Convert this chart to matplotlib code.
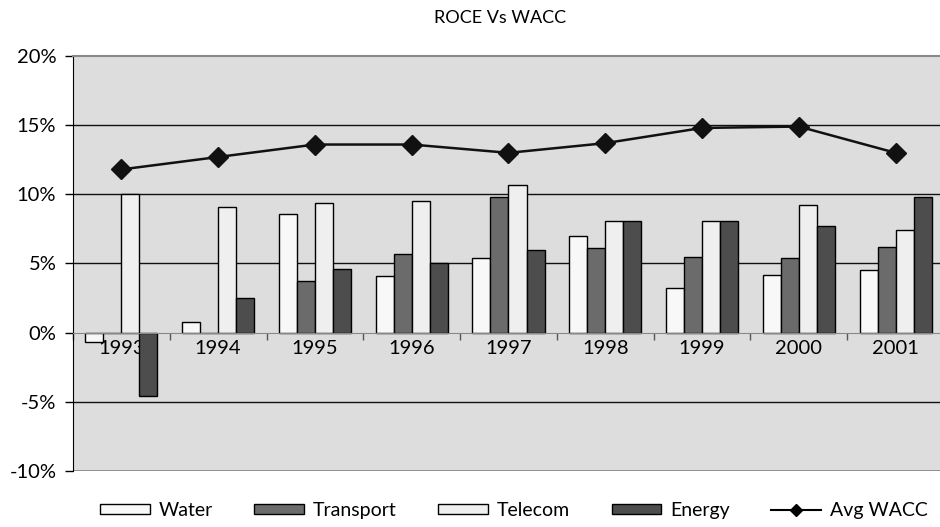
import numpy as np
import matplotlib
matplotlib.use('Agg')
import matplotlib.pyplot as plt
from matplotlib.lines import Line2D
from matplotlib.patches import Patch

plt.rcParams['font.family'] = ['Lato', 'DejaVu Sans']

# Data (percent)
years = ['1993', '1994', '1995', '1996', '1997', '1998', '1999', '2000', '2001']
water = [-0.7, 0.8, 8.6, 4.1, 5.4, 7.0, 3.2, 4.2, 4.5]
transport = [0.0, 0.0, 3.7, 5.7, 9.8, 6.1, 5.5, 5.4, 6.2]
telecom = [10.0, 9.1, 9.4, 9.5, 10.7, 8.1, 8.1, 9.2, 7.4]
energy = [-4.6, 2.5, 4.6, 5.0, 6.0, 8.1, 8.1, 7.7, 9.8]
avg_wacc = [11.8, 12.7, 13.6, 13.6, 13.0, 13.7, 14.8, 14.9, 13.0]
yticks = [-10, -5, 0, 5, 10, 15, 20]
ytick_labels = ['-10%', '-5%', '0%', '5%', '10%', '15%', '20%']

series = [('Water', water, '#f8f8f8'),
          ('Transport', transport, '#6b6b6b'),
          ('Telecom', telecom, '#efefef'),
          ('Energy', energy, '#4d4d4d')]

fig = plt.figure(figsize=(9.4, 5.27), dpi=100)
ax = fig.add_axes([73 / 940, 56 / 527, 871 / 940, 415 / 527])
ax.set_facecolor('#dddddd')
ax.set_axisbelow(True)

x = np.arange(len(years))
w = 0.186
for i, (name, vals, col) in enumerate(series):
    ax.bar(x + (i - 1.5) * w, vals, w, color=col, edgecolor='black',
           linewidth=1, zorder=1)

ax.plot(x, avg_wacc, color='#111111', lw=1.8, marker='D', markersize=10,
        zorder=4)

for g in [5, 10, 15, -5]:
    ax.axhline(g, color='#111111', lw=1, zorder=0.6)
ax.axhline(-10, color='#888888', lw=2, zorder=0.6)

ax.spines['bottom'].set_position(('data', 0))
ax.spines['bottom'].set_color('#888888')
ax.spines['top'].set_color('#888888')
ax.spines['top'].set_linewidth(1.5)
ax.spines['right'].set_visible(False)
ax.spines['left'].set_color('black')

ax.set_ylim(-10, 20)
ax.set_xlim(-0.5, len(years) - 0.5)
ax.set_yticks(yticks)
ax.set_yticklabels(ytick_labels)
ax.tick_params(axis='y', direction='out', length=6, width=1, pad=6,
               labelsize=14.5)

ax.set_xticks(x)
ax.set_xticklabels(years)
ax.set_xticks(np.arange(-0.5, len(years), 1), minor=True)
ax.tick_params(axis='x', which='major', length=0, pad=5, labelsize=14.5)
ax.tick_params(axis='x', which='minor', length=5, width=1, color='#555555')

fig.text(0.532, 0.965, 'ROCE Vs WACC', ha='center', va='center', fontsize=13)

handles = [Patch(facecolor=c, edgecolor='black', linewidth=1) for _, _, c in series]
handles.append(Line2D([], [], color='black', lw=1.5, marker='D', markersize=6))
labels = [s[0] for s in series] + ['Avg WACC']
fig.legend(handles, labels, loc='center left', bbox_to_anchor=(100 / 940, 0.032),
           ncol=5, frameon=False, fontsize=14, handlelength=2.55,
           handleheight=0.4, handletextpad=0.45, columnspacing=2.15,
           borderpad=0, borderaxespad=0)

fig.savefig('out.png', dpi=100)
